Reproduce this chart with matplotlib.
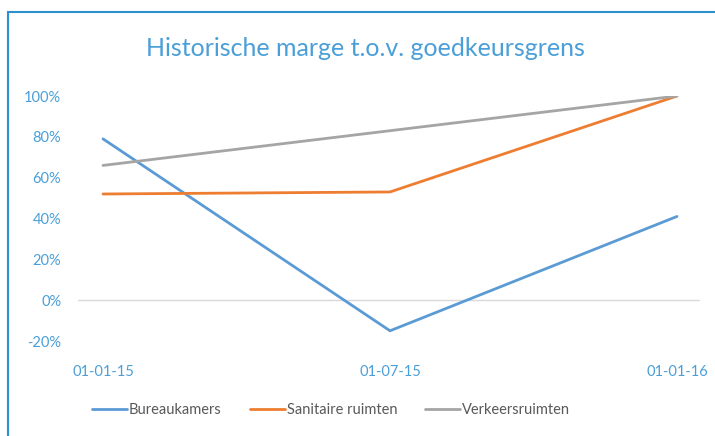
import matplotlib
matplotlib.use("Agg")
import matplotlib.pyplot as plt
from matplotlib.patches import Rectangle
from matplotlib.ticker import FuncFormatter

dates = ["01-01-15", "01-07-15", "01-01-16"]
bureaukamers = [79, -15, 41]
sanitaire = [52, 53, 100]
verkeers = [66, 83, 100]
series_names = ["Bureaukamers", "Sanitaire ruimten", "Verkeersruimten"]
y_ticks = [-20, 0, 20, 40, 60, 80, 100]

plt.rcParams['font.family'] = ['Lato', 'DejaVu Sans']
blue_txt = "#4A9FD8"

fig = plt.figure(figsize=(7.15, 4.36), dpi=100)
ax = fig.add_axes([78/715, 1-341/436, (700-78)/715, (341-96)/436])

x = list(range(len(dates)))
ax.plot(x, bureaukamers, color="#5B9BD5", lw=2.0, label=series_names[0], solid_capstyle='round')
ax.plot(x, sanitaire, color="#ED7D31", lw=2.0, label=series_names[1], solid_capstyle='round')
ax.plot(x, verkeers, color="#A5A5A5", lw=2.0, label=series_names[2], solid_capstyle='round')

ax.axhline(0, color="#D9D9D9", lw=1.0, zorder=0)
ax.set_xlim(-25/287, 2 + 23/287)
ax.set_ylim(-20, 100)
ax.set_yticks(y_ticks)
ax.yaxis.set_major_formatter(FuncFormatter(lambda v, p: f"{int(v)}%"))
ax.set_xticks(x)
ax.set_xticklabels(dates)
for s in ax.spines.values():
    s.set_visible(False)
ax.tick_params(axis='both', length=0, labelcolor=blue_txt, labelsize=10.5)
ax.tick_params(axis='y', pad=12)
ax.tick_params(axis='x', pad=17)

fig.text(365/715, 1-48/436, "Historische marge t.o.v. goedkeursgrens", ha='center', va='center',
         color=blue_txt, fontsize=18)

leg = fig.legend(loc='center', bbox_to_anchor=(331/715, 1-410/436), ncol=3, frameon=False,
                 fontsize=10.5, handlelength=2.4, columnspacing=1.9, handletextpad=0.15)
for t in leg.get_texts():
    t.set_color("#595959")

fig.patches.append(Rectangle((8/715, -0.1), 1.2, 1-12/436 + 0.1, transform=fig.transFigure,
                             fill=False, edgecolor="#2E8FD0", lw=1.5))

fig.savefig("out.png", dpi=100)
